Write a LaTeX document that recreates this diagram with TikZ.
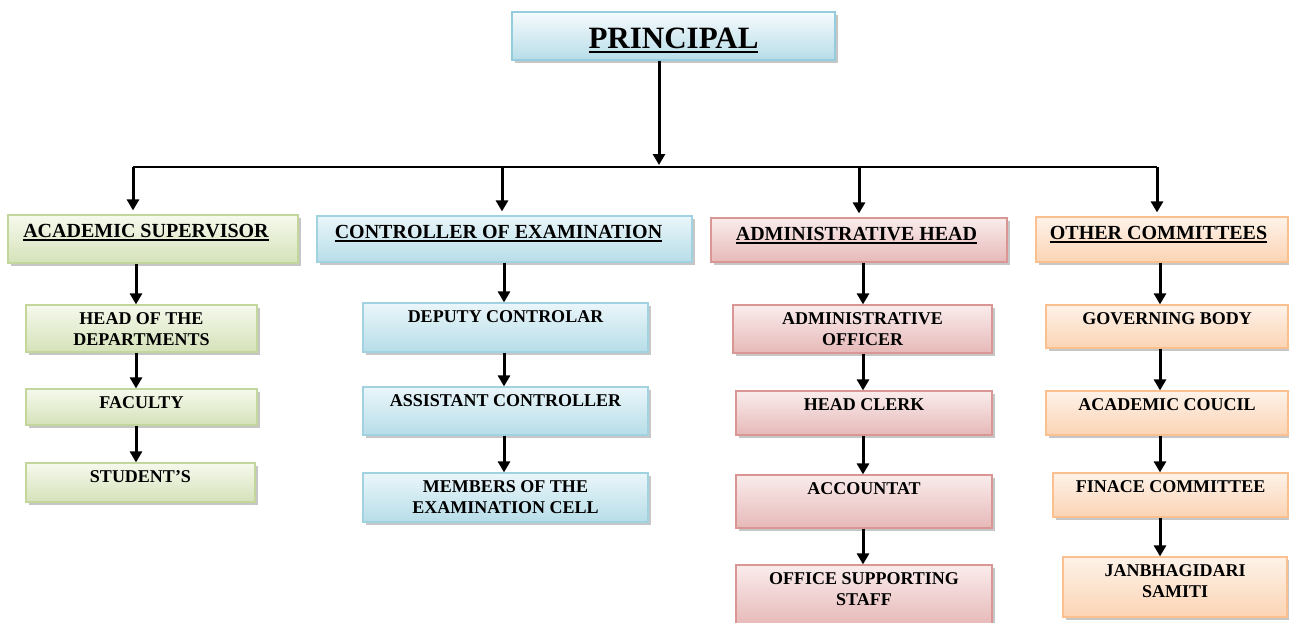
\documentclass[tikz,border=0pt]{standalone}
\usepackage{fontspec}
\setmainfont{Liberation Serif}
\usepackage{xcolor}
\usepackage{tikz}
\usetikzlibrary{arrows.meta,shadows}
\definecolor{headedge}{RGB}{150,205,222}
\definecolor{headtop}{RGB}{246,251,253}
\definecolor{headbot}{RGB}{183,221,232}
\definecolor{grnedge}{RGB}{195,214,155}
\definecolor{grntop}{RGB}{246,249,237}
\definecolor{grnbot}{RGB}{213,226,185}
\definecolor{bluedge}{RGB}{160,210,224}
\definecolor{blutop}{RGB}{234,246,250}
\definecolor{blubot}{RGB}{183,221,232}
\definecolor{pinkedge}{RGB}{217,150,148}
\definecolor{pinktop}{RGB}{250,236,236}
\definecolor{pinkbot}{RGB}{230,185,184}
\definecolor{peachedge}{RGB}{250,192,143}
\definecolor{peachtop}{RGB}{254,242,233}
\definecolor{peachbot}{RGB}{251,212,180}
\newcommand\undl[1]{\setbox0\hbox{#1}\leavevmode\rlap{\copy0}\rule[-0.17em]{\wd0}{0.09em}}

\begin{document}
\begin{tikzpicture}[
  x=1pt, y=-1pt,
  box/.style={rectangle, line width=1.2pt, inner sep=0pt,
    drop shadow={shadow xshift=2.5pt, shadow yshift=-2.5pt, opacity=0.45}},
  headbox/.style={box, draw=headedge, top color=headtop, bottom color=headbot},
  greenbox/.style={box, draw=grnedge, top color=grntop, bottom color=grnbot},
  bluebox/.style={box, draw=bluedge, top color=blutop, bottom color=blubot},
  pinkbox/.style={box, draw=pinkedge, top color=pinktop, bottom color=pinkbot},
  peachbox/.style={box, draw=peachedge, top color=peachtop, bottom color=peachbot},
  toptxt/.style={anchor=north, inner sep=0pt, yshift=-16pt, font=\fontsize{31}{34}\selectfont\bfseries},
  lvltxt/.style={anchor=north, align=center, inner sep=0pt, yshift=-9.5pt, font=\fontsize{20}{22}\selectfont\bfseries},
  subtxt/.style={anchor=north, align=center, inner sep=0pt, yshift=-8pt, font=\fontsize{18}{20.5}\selectfont\bfseries},
  arr/.style={-{Triangle[length=11pt,width=12pt]}, line width=3pt}
]
  \useasboundingbox (0,0) rectangle (1289,622);

  \node[headbox, minimum width=323pt, minimum height=48pt,
    label={[toptxt]north:\undl{PRINCIPAL}}] (principal) at (673.5,36) {};

  % first level
  \node[greenbox, minimum width=290pt, minimum height=48pt,
    label={[lvltxt,xshift=-7pt]north:\undl{ACADEMIC SUPERVISOR}}] (acad) at (153,239) {};
  \node[bluebox, minimum width=375pt, minimum height=46pt,
    label={[lvltxt,xshift=-6pt]north:\undl{CONTROLLER OF EXAMINATION}}] (ctrl) at (504.5,239) {};
  \node[pinkbox, minimum width=296pt, minimum height=44pt,
    label={[lvltxt,xshift=-2.5pt]north:\undl{ADMINISTRATIVE HEAD}}] (admh) at (859,240) {};
  \node[peachbox, minimum width=252pt, minimum height=45pt,
    label={[lvltxt,xshift=-3.5pt]north:\undl{OTHER COMMITTEES}}] (othc) at (1162,239.5) {};

  % academic column
  \node[greenbox, minimum width=231pt, minimum height=47pt,
    label={[subtxt]north:HEAD OF THE\\DEPARTMENTS}] (hod) at (141.5,328.5) {};
  \node[greenbox, minimum width=231pt, minimum height=36pt,
    label={[subtxt]north:FACULTY}] (fac) at (141.5,407) {};
  \node[greenbox, minimum width=229pt, minimum height=39pt,
    label={[subtxt]north:STUDENT’S}] (stu) at (140.5,482.5) {};

  % examination column
  \node[bluebox, minimum width=285pt, minimum height=49pt,
    label={[subtxt]north:DEPUTY CONTROLAR}] (dep) at (505.5,327.5) {};
  \node[bluebox, minimum width=285pt, minimum height=48pt,
    label={[subtxt]north:ASSISTANT CONTROLLER}] (asst) at (505.5,411) {};
  \node[bluebox, minimum width=285pt, minimum height=49pt,
    label={[subtxt]north:MEMBERS OF THE\\EXAMINATION CELL}] (mem) at (505.5,497.5) {};

  % administration column
  \node[pinkbox, minimum width=259pt, minimum height=48pt,
    label={[subtxt]north:ADMINISTRATIVE\\OFFICER}] (ao) at (862.5,329) {};
  \node[pinkbox, minimum width=256pt, minimum height=44pt,
    label={[subtxt]north:HEAD CLERK}] (hc) at (864,413) {};
  \node[pinkbox, minimum width=256pt, minimum height=53pt,
    label={[subtxt]north:ACCOUNTAT}] (acc) at (864,501.5) {};
  \node[pinkbox, minimum width=256pt, minimum height=60pt,
    label={[subtxt]north:OFFICE SUPPORTING\\STAFF}] (oss) at (864,595) {};

  % committees column
  \node[peachbox, minimum width=242pt, minimum height=43pt,
    label={[subtxt]north:GOVERNING BODY}] (gb) at (1167,326.5) {};
  \node[peachbox, minimum width=242pt, minimum height=44pt,
    label={[subtxt]north:ACADEMIC COUCIL}] (ac) at (1167,413) {};
  \node[peachbox, minimum width=235pt, minimum height=44pt,
    label={[subtxt]north:FINACE COMMITTEE}] (fc) at (1170.5,495) {};
  \node[peachbox, minimum width=224pt, minimum height=60pt,
    label={[subtxt]north:JANBHAGIDARI\\SAMITI}] (js) at (1175,587) {};

  % bus under the principal
  \coordinate (top) at (659,167);
  \coordinate (b1) at (133,167);
  \coordinate (b2) at (502,167);
  \coordinate (b3) at (859,167);
  \coordinate (b4) at (1157,167);
  \draw[line width=2pt] (b1) -- (b4);
  \draw[arr, shorten >=2pt] (principal.south -| top) -- (top);
  \draw[arr, shorten >=4pt] (b1) -- (b1 |- acad.north);
  \draw[arr, shorten >=4pt] (b2) -- (b2 |- ctrl.north);
  \draw[arr, shorten >=4pt] (b3) -- (b3 |- admh.north);
  \draw[arr, shorten >=4pt] (b4) -- (b4 |- othc.north);

  % column arrows
  \coordinate (cg) at (136,0);
  \coordinate (cb) at (504,0);
  \coordinate (cr) at (863,0);
  \coordinate (co) at (1160,0);
  \draw[arr] (acad.south -| cg) -- (hod.north -| cg);
  \draw[arr] (hod.south -| cg) -- (fac.north -| cg);
  \draw[arr] (fac.south -| cg) -- (stu.north -| cg);
  \draw[arr] (ctrl.south -| cb) -- (dep.north -| cb);
  \draw[arr] (dep.south -| cb) -- (asst.north -| cb);
  \draw[arr] (asst.south -| cb) -- (mem.north -| cb);
  \draw[arr] (admh.south -| cr) -- (ao.north -| cr);
  \draw[arr] (ao.south -| cr) -- (hc.north -| cr);
  \draw[arr] (hc.south -| cr) -- (acc.north -| cr);
  \draw[arr] (acc.south -| cr) -- (oss.north -| cr);
  \draw[arr] (othc.south -| co) -- (gb.north -| co);
  \draw[arr] (gb.south -| co) -- (ac.north -| co);
  \draw[arr] (ac.south -| co) -- (fc.north -| co);
  \draw[arr] (fc.south -| co) -- (js.north -| co);
\end{tikzpicture}
\end{document}
